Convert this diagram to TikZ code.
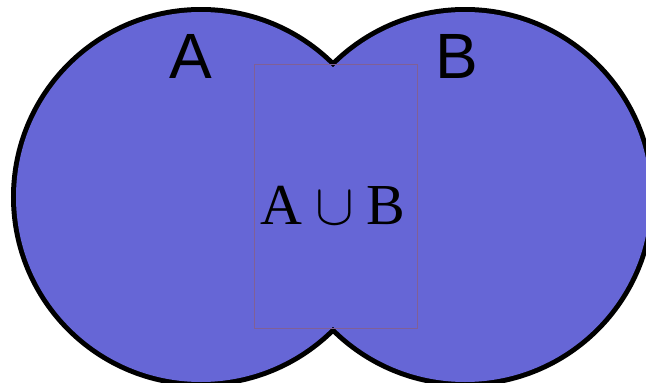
\RequirePackage{fix-cm}
\documentclass[tikz,border=0pt]{standalone}
\usepackage{fontspec}
\usepackage{tikz}
\usetikzlibrary{positioning}
\newfontfamily\labelfont{Liberation Sans}
\newfontfamily\unionfont{Liberation Serif}
\definecolor{setfill}{RGB}{102,102,214}
\definecolor{boxline}{RGB}{128,96,150}

\begin{document}
\begin{tikzpicture}[x=1pt,y=-1pt]
        \useasboundingbox (0,0) rectangle (646,383);
        \coordinate (cA) at (201,197);
        \coordinate (cB) at (465,197);
        % outline first, then fill over the inner arcs
        \draw[line width=10pt] (cA) circle (185) (cB) circle (185);
        \fill[setfill] (cA) circle (185) (cB) circle (185);
        \node[draw=boxline, line width=0.6pt, minimum width=163pt, minimum height=264pt, inner sep=0pt] (unionbox) at (335.5,196) {};
        \node[font=\unionfont\fontsize{58}{60}\selectfont] (unionlbl) at (333,205) {A${}\cup{}$B};
        \node[font=\labelfont\fontsize{64}{70}\selectfont, inner sep=0pt] (lblA) at (191,56) {A};
        \node[font=\labelfont\fontsize{64}{70}\selectfont, inner sep=0pt] (lblB) at (457,56) {B};
    \end{tikzpicture}
\end{document}
